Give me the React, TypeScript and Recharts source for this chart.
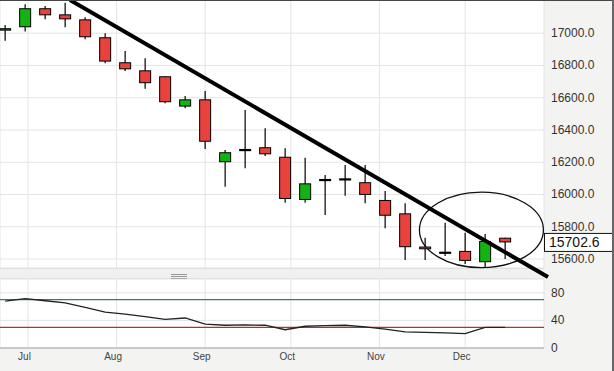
import React from 'react';
import {
  ComposedChart,
  Bar,
  Line,
  XAxis,
  YAxis,
  CartesianGrid,
  ReferenceLine,
  ReferenceArea,
} from 'recharts';

// ---------- data ----------
const weekStarts = [
  '2014-06-23', '2014-06-30', '2014-07-07', '2014-07-14', '2014-07-21', '2014-07-28',
  '2014-08-04', '2014-08-11', '2014-08-18', '2014-08-25', '2014-09-01', '2014-09-08',
  '2014-09-15', '2014-09-22', '2014-09-29', '2014-10-06', '2014-10-13', '2014-10-20',
  '2014-10-27', '2014-11-03', '2014-11-10', '2014-11-17', '2014-11-24', '2014-12-01',
  '2014-12-08', '2014-12-15',
];
const opens = [
  17016, 17037, 17155, 17117, 17086, 16975, 16820, 16770, 16733, 16545, 16590, 16200, 16276,
  16293, 16234, 15966, 16090, 16094, 16076, 15966, 15883, 15677, 15639, 15650, 15580, 15732,
];
const highs = [
  17051, 17180, 17169, 17189, 17099, 17000, 16890, 16844, 16733, 16611, 16642, 16276, 16524,
  16410, 16286, 16228, 16121, 16183, 16183, 16022, 15945, 15732, 15825, 15763, 15755, 15732,
];
const lows = [
  16954, 17010, 17086, 17037, 16962, 16814, 16766, 16656, 16566, 16535, 16282, 16048, 16162,
  16239, 15949, 15949, 15873, 15992, 15945, 15790, 15594, 15594, 15619, 15569, 15545, 15600,
];
const closes = [
  17031, 17155, 17111, 17086, 16975, 16824, 16776, 16690, 16572, 16590, 16327, 16262, 16276,
  16249, 15972, 16069, 16090, 16094, 15997, 15868, 15673, 15660, 15639, 15588, 15712, 15702.6,
];
const rsiValues = [
  68, 71.5, 68.5, 65.5, 59, 52, 49, 45.5, 41.5, 43.5, 34.5, 33, 33.5,
  33, 26.5, 31.5, 32.5, 33, 30.5, 27.5, 23.3, 22.7, 21.8, 20.8, 30, 30,
];
const monthStarts = ['2014-07-01', '2014-08-01', '2014-09-01', '2014-10-01', '2014-11-01', '2014-12-01'];
const monthLabels = ['Jul', 'Aug', 'Sep', 'Oct', 'Nov', 'Dec'];
const priceTicks = [15600, 15800, 16000, 16200, 16400, 16600, 16800, 17000];
const rsiTicks = [0, 40, 80];
const rsiUpper = 70;
const rsiLower = 30;
const lastPrice = 15702.6;
// trend line drawn by hand on the chart (day offset from Jul 1, price)
const trendDays = [14.7, 182];
const trendPrices = [17206, 15488];
// circled region (day range, price range)
const circleDays = [137, 180.4];
const circlePrices = [15546, 16014];

// ---------- helpers ----------
const ORIGIN = Date.UTC(2014, 6, 1);
const toDay = (s: string) => {
  const [y, m, d] = s.split('-').map(Number);
  return (Date.UTC(y, m - 1, d) - ORIGIN) / 86400000;
};
const monthDays = monthStarts.map(toDay);
const xDomain: [number, number] = [-9.8, 180.6];

const rows = weekStarts.map((w, i) => ({
  day: toDay(w),
  open: opens[i],
  high: highs[i],
  low: lows[i],
  close: closes[i],
  range: [lows[i], highs[i]],
  rsi: rsiValues[i],
}));

const FONT = '"Liberation Sans", Arial, sans-serif';
const BG = '#f3f3f1';
const GRID = '#e4e4e4';
const RED = '#e8423d';
const GREEN = '#13b313';

const Candle = (props: any) => {
  const { x, y, width, height, payload } = props;
  if (x == null || y == null) return null;
  const top = Math.min(y, y + height);
  const h = Math.abs(height);
  const { open, close, high, low } = payload;
  const span = high - low;
  const toPx = (v: number) => (span > 0 ? top + ((high - v) / span) * h : top);
  const cx = x + width / 2;
  const oY = toPx(open);
  const cY = toPx(close);
  const bodyTop = Math.min(oY, cY);
  const bodyH = Math.abs(oY - cY);
  const fill = close > open ? GREEN : RED;
  return (
    <g>
      <line x1={cx} x2={cx} y1={top} y2={top + h} stroke="#000" strokeWidth={1.2} />
      {bodyH < 1.5 ? (
        <rect x={x} y={bodyTop - 1} width={width} height={2.2} fill="#000" />
      ) : (
        <rect
          x={x + 0.5}
          y={bodyTop + 0.5}
          width={width - 1}
          height={Math.max(bodyH - 1, 1)}
          fill={fill}
          stroke="#000"
          strokeWidth={1}
        />
      )}
    </g>
  );
};

const PriceTick = (props: any) => {
  const { x, y, payload } = props;
  return (
    <text x={x} y={y + 4} fontSize={12} fill="#333" fontFamily={FONT} textAnchor="start">
      {Number(payload.value).toFixed(1)}
    </text>
  );
};

const RsiTick = (props: any) => {
  const { x, y, payload } = props;
  return (
    <text x={x} y={y + 4} fontSize={12} fill="#333" fontFamily={FONT} textAnchor="start">
      {payload.value}
    </text>
  );
};

const MonthTick = (props: any) => {
  const { x, y, payload } = props;
  const idx = monthDays.indexOf(payload.value);
  return (
    <text x={x - 3.5} y={y + 12} fontSize={10} fill="#444" fontFamily={FONT} textAnchor="middle">
      {monthLabels[idx]}
    </text>
  );
};

const LastPriceBox = (props: any) => {
  const vb = props.viewBox || {};
  const bx = (vb.x || 0) + (vb.width || 0);
  const by = vb.y || 0;
  return (
    <g>
      <rect x={bx + 0.5} y={by - 9} width={68} height={18} fill="#fff" stroke="#111" strokeWidth={1} />
      <text x={bx + 5} y={by + 5} fontSize={14} fill="#111" fontFamily={FONT}>
        {lastPrice.toFixed(1)}
      </text>
    </g>
  );
};

const EllipseShape = (props: any) => {
  const { x, y, width, height } = props;
  return (
    <ellipse
      cx={x + width / 2}
      cy={y + height / 2}
      rx={Math.abs(width) / 2}
      ry={Math.abs(height) / 2}
      fill="none"
      stroke="#111"
      strokeWidth={1.3}
    />
  );
};

export default function App() {
  return (
    <div
      style={{
        position: 'absolute',
        left: 0,
        top: 0,
        width: 614,
        height: 371,
        background: BG,
        overflow: 'hidden',
        fontFamily: FONT,
      }}
    >
      {/* pane separator (drawn first so the trend line can pass over it) */}
      <div style={{ position: 'absolute', left: 0, top: 268, width: 544, height: 1, background: '#d9d9d9' }} />
      <div style={{ position: 'absolute', left: 0, top: 269, width: 544, height: 10, background: '#f0f0ee' }} />
      <div style={{ position: 'absolute', left: 0, top: 278, width: 544, height: 1, background: '#e2e2e2' }} />
      <div style={{ position: 'absolute', left: 171, top: 274, width: 16, height: 1, background: '#999' }} />
      <div style={{ position: 'absolute', left: 171, top: 276, width: 16, height: 1, background: '#999' }} />
      <div style={{ position: 'absolute', left: 171, top: 278, width: 16, height: 1, background: '#aaa' }} />

      <div style={{ position: 'absolute', left: 0, top: 279 }}>
        <ComposedChart width={614} height={92} data={rows} margin={{ top: 0, right: 0, bottom: 0, left: 0 }}>
          <CartesianGrid stroke={GRID} fill="#fff" />
          <XAxis
            type="number"
            dataKey="day"
            domain={xDomain}
            ticks={monthDays}
            allowDataOverflow
            height={23}
            axisLine={{ stroke: '#bdbdbd', strokeWidth: 1.5 }}
            tickLine={false}
            tickSize={0}
            tickMargin={0}
            tick={<MonthTick />}
          />
          <YAxis
            orientation="right"
            width={70}
            domain={[0, 100]}
            ticks={rsiTicks}
            allowDataOverflow
            axisLine={false}
            tickLine={false}
            tickSize={0}
            tickMargin={7}
            tick={<RsiTick />}
          />
          <ReferenceLine y={rsiUpper} stroke="#2e7d7a" strokeWidth={1.2} />
          <ReferenceLine y={rsiLower} stroke="#c62828" strokeWidth={1.2} />
          <Line
            type="linear"
            dataKey="rsi"
            stroke="#222"
            strokeWidth={1.3}
            dot={false}
            isAnimationActive={false}
          />
        </ComposedChart>
      </div>

      <div style={{ position: 'absolute', left: 0, top: 0 }}>
        <ComposedChart width={614} height={279} data={rows} margin={{ top: 0, right: 0, bottom: 11, left: 0 }}>
          <CartesianGrid stroke={GRID} fill="#fff" />
          <XAxis
            type="number"
            dataKey="day"
            domain={xDomain}
            ticks={monthDays}
            allowDataOverflow
            hide
          />
          <YAxis
            orientation="right"
            width={70}
            domain={[15544, 17206]}
            ticks={priceTicks}
            allowDataOverflow
            axisLine={false}
            tickLine={false}
            tickSize={0}
            tickMargin={7}
            tick={<PriceTick />}
          />
          <Bar dataKey="range" barSize={12} shape={<Candle />} isAnimationActive={false} />
          <ReferenceLine
            segment={[
              { x: trendDays[0], y: trendPrices[0] },
              { x: trendDays[1], y: trendPrices[1] },
            ]}
            stroke="#000"
            strokeWidth={4}
            ifOverflow="visible"
          />
          <ReferenceArea
            x1={circleDays[0]}
            x2={circleDays[1]}
            y1={circlePrices[0]}
            y2={circlePrices[1]}
            shape={<EllipseShape />}
            ifOverflow="visible"
          />
          <ReferenceLine y={lastPrice} stroke="none" label={<LastPriceBox />} ifOverflow="visible" />
        </ComposedChart>
      </div>

      {/* frame */}
      <div style={{ position: 'absolute', left: 0, top: 0, width: 614, height: 1, background: '#444' }} />
      <div style={{ position: 'absolute', left: 612, top: 0, width: 2, height: 371, background: '#666' }} />
    </div>
  );
}
